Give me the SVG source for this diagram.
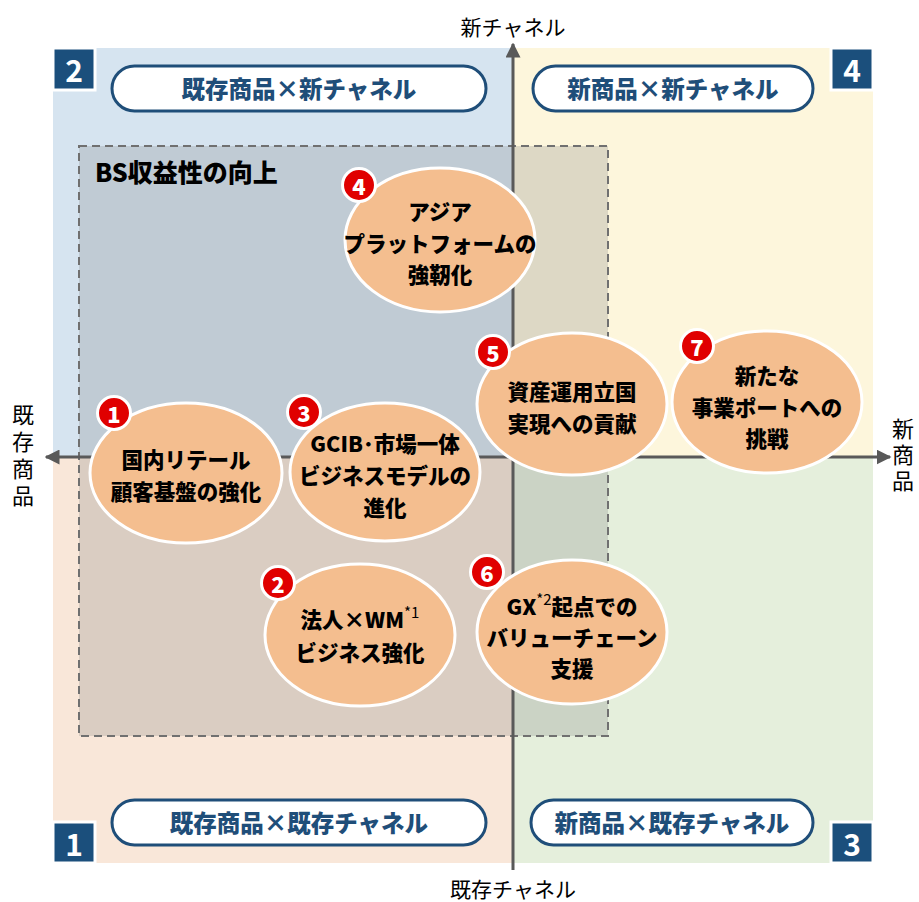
<svg xmlns="http://www.w3.org/2000/svg" width="919" height="902" viewBox="0 0 919 902">
<defs>
<style>
.jp{font-family:"Noto Sans CJK JP","Noto Sans",sans-serif;}
.pill{fill:#ffffff;stroke:#1f4e79;stroke-width:3;}
.pilltxt{font-family:"Noto Sans CJK JP",sans-serif;font-weight:900;font-size:23.5px;fill:#1f4e79;text-anchor:middle;dominant-baseline:central;}
.badge{fill:#1b4f7c;stroke:#ffffff;stroke-width:3;}
.badgetxt{font-family:"Noto Sans CJK JP",sans-serif;font-weight:bold;font-size:30px;fill:#ffffff;text-anchor:middle;dominant-baseline:central;}
.ell{fill:#f4be8f;stroke:#ffffff;stroke-width:3;}
.etxt{font-family:"Noto Sans CJK JP",sans-serif;font-weight:900;font-size:21.5px;fill:#000000;text-anchor:middle;dominant-baseline:central;}
.num{fill:#e00000;stroke:#ffffff;stroke-width:3;}
.numtxt{font-family:"Noto Sans CJK JP",sans-serif;font-weight:900;font-size:22px;fill:#ffffff;text-anchor:middle;dominant-baseline:central;}
.axis{stroke:#595959;stroke-width:3;fill:none;}
.axtxt{font-family:"Noto Sans CJK JP",sans-serif;font-size:21px;fill:#000000;text-anchor:middle;dominant-baseline:central;}
.vtxt{font-family:"Noto Sans CJK JP",sans-serif;font-size:22px;fill:#000000;text-anchor:middle;writing-mode:vertical-rl;}
.sup{font-size:15px;font-weight:normal;}
</style>
<marker id="arr" viewBox="0 0 10 10" refX="9" refY="5" markerWidth="5" markerHeight="5" orient="auto" markerUnits="strokeWidth">
<path d="M0,0 L10,5 L0,10 Z" fill="#595959"/>
</marker>
</defs>
<rect width="919" height="902" fill="#ffffff"/>
<g id="quadrants">
<rect x="53" y="48" width="460" height="409" fill="#d6e4f0"/>
<rect x="513" y="48" width="360" height="409" fill="#fdf6dc"/>
<rect x="53" y="457" width="460" height="406" fill="#f9e7d9"/>
<rect x="513" y="457" width="360" height="406" fill="#e5efdc"/>
</g>
<g id="bs-region">
<rect x="79" y="146" width="529" height="590" fill="#808080" fill-opacity="0.25" stroke="#707070" stroke-width="2" stroke-dasharray="8,5"/>
<text class="jp" x="95" y="171" font-size="25" font-weight="900" dominant-baseline="central">BS収益性の向上</text>
</g>
<g id="connectors">
<line class="axis" x1="513" y1="870" x2="513" y2="44" marker-end="url(#arr)"/>
<line class="axis" x1="513" y1="457" x2="46" y2="457" marker-end="url(#arr)"/>
<line class="axis" x1="513" y1="457" x2="890" y2="457" marker-end="url(#arr)"/>
</g>
<g id="axis-labels">
<text class="axtxt" x="513" y="26">新チャネル</text>
<text class="axtxt" x="513" y="888">既存チャネル</text>
<text class="vtxt" x="23" y="458" letter-spacing="5">既存商品</text>
<text class="vtxt" x="903" y="457" letter-spacing="4">新商品</text>
</g>
<g id="q2-label">
<rect class="badge" x="53" y="48" width="42" height="42"/>
<text class="badgetxt" x="74" y="69">2</text>
<rect class="pill" x="112" y="66" width="374" height="45" rx="22.5"/>
<text class="pilltxt" x="299" y="88">既存商品×新チャネル</text>
</g>
<g id="q4-label">
<rect class="badge" x="831" y="48" width="42" height="42"/>
<text class="badgetxt" x="852" y="69">4</text>
<rect class="pill" x="533" y="66" width="280" height="45" rx="22.5"/>
<text class="pilltxt" x="673" y="88">新商品×新チャネル</text>
</g>
<g id="q1-label">
<rect class="badge" x="53" y="822" width="42" height="41"/>
<text class="badgetxt" x="74" y="843">1</text>
<rect class="pill" x="112" y="800" width="374" height="45" rx="22.5"/>
<text class="pilltxt" x="299" y="822">既存商品×既存チャネル</text>
</g>
<g id="q3-label">
<rect class="badge" x="831" y="822" width="42" height="41"/>
<text class="badgetxt" x="852" y="843">3</text>
<rect class="pill" x="531" y="800" width="282" height="45" rx="22.5"/>
<text class="pilltxt" x="672" y="822">新商品×既存チャネル</text>
</g>
<g id="node4">
<ellipse class="ell" cx="440" cy="240" rx="95" ry="72"/>
<text class="etxt" x="440" y="210">アジア</text>
<text class="etxt" x="440" y="242">プラットフォームの</text>
<text class="etxt" x="440" y="273">強靭化</text>
<circle class="num" cx="359" cy="185" r="16.5"/>
<text class="numtxt" x="359" y="185">4</text>
</g>
<g id="node1">
<ellipse class="ell" cx="186" cy="473" rx="96" ry="70"/>
<text class="etxt" x="186" y="458">国内リテール</text>
<text class="etxt" x="186" y="490">顧客基盤の強化</text>
<circle class="num" cx="114" cy="413" r="16.5"/>
<text class="numtxt" x="114" y="413">1</text>
</g>
<g id="node3">
<ellipse class="ell" cx="385" cy="472" rx="95" ry="69"/>
<text class="etxt" x="385" y="442">GCIB･市場一体</text>
<text class="etxt" x="385" y="474">ビジネスモデルの</text>
<text class="etxt" x="385" y="506">進化</text>
<circle class="num" cx="304" cy="412" r="16.5"/>
<text class="numtxt" x="304" y="412">3</text>
</g>
<g id="node2">
<ellipse class="ell" cx="360" cy="635" rx="95" ry="71"/>
<text class="etxt" x="360" y="618">法人×WM<tspan class="sup" dy="-7">*1</tspan></text>
<text class="etxt" x="360" y="651">ビジネス強化</text>
<circle class="num" cx="278" cy="583" r="16.5"/>
<text class="numtxt" x="278" y="583">2</text>
</g>
<g id="node5">
<ellipse class="ell" cx="572" cy="404" rx="95" ry="71"/>
<text class="etxt" x="572" y="390">資産運用立国</text>
<text class="etxt" x="572" y="422">実現への貢献</text>
<circle class="num" cx="493" cy="352" r="16.5"/>
<text class="numtxt" x="493" y="352">5</text>
</g>
<g id="node6">
<ellipse class="ell" cx="572" cy="632" rx="95" ry="72"/>
<text class="etxt" x="572" y="605">GX<tspan class="sup" dy="-7">*2</tspan><tspan dy="7">起点での</tspan></text>
<text class="etxt" x="572" y="636">バリューチェーン</text>
<text class="etxt" x="572" y="667">支援</text>
<circle class="num" cx="487" cy="572" r="16.5"/>
<text class="numtxt" x="487" y="572">6</text>
</g>
<g id="node7">
<ellipse class="ell" cx="767" cy="402" rx="95" ry="71"/>
<text class="etxt" x="767" y="374">新たな</text>
<text class="etxt" x="767" y="406">事業ポートへの</text>
<text class="etxt" x="767" y="437">挑戦</text>
<circle class="num" cx="697" cy="346" r="16.5"/>
<text class="numtxt" x="697" y="346">7</text>
</g>
</svg>
